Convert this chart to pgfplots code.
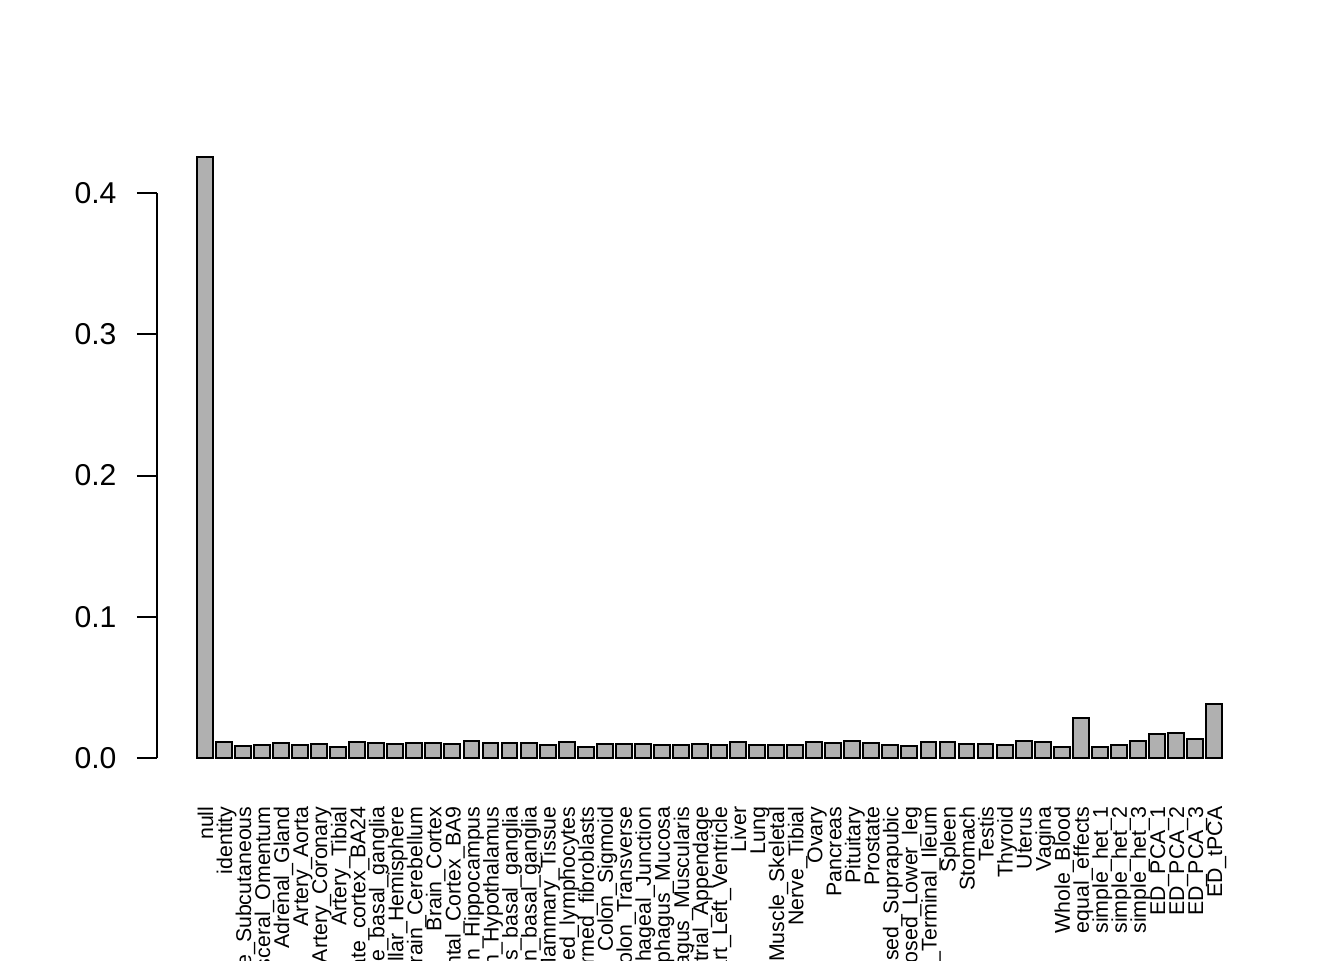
\documentclass[border=0pt]{standalone}
\usepackage{fontspec}
\setmainfont{Liberation Sans}
\usepackage{pgfplots}
\pgfplotsset{compat=1.18}
\definecolor{barfill}{HTML}{B0B0B0}

\begin{document}
\begin{tikzpicture}
\path[use as bounding box] (0,0) rectangle (504pt,360pt);
\clip (0,0) rectangle (504pt,360pt);
\begin{axis}[
    at={(58.875pt,75.75pt)}, anchor=south west,
    x=7.14pt, y=529.69pt,
    xmin=-2.516, xmax=53.5, ymin=0, ymax=0.4,
    clip=false,
    axis y line=left, axis x line=bottom,
    axis line style={-, line width=0.75pt},
    x axis line style={draw=none},
    x tick style={draw=none},
    y tick style={line width=0.75pt, black},
    tick align=outside, major tick length=7.5pt,
    ytick={0,0.1,0.2,0.3,0.4},
    yticklabels={0.0,0.1,0.2,0.3,0.4},
    yticklabel style={anchor=east, inner sep=0pt, xshift=-7.5pt, font=\fontsize{11.3}{12}\selectfont},
    xtick={0,...,53},
    xticklabels={null,identity,Adipose\_Subcutaneous,Adipose\_Visceral\_Omentum,Adrenal\_Gland,
      Artery\_Aorta,Artery\_Coronary,Artery\_Tibial,Brain\_Anterior\_cingulate\_cortex\_BA24,
      Brain\_Caudate\_basal\_ganglia,Brain\_Cerebellar\_Hemisphere,Brain\_Cerebellum,Brain\_Cortex,
      Brain\_Frontal\_Cortex\_BA9,Brain\_Hippocampus,Brain\_Hypothalamus,
      Brain\_Nucleus\_accumbens\_basal\_ganglia,Brain\_Putamen\_basal\_ganglia,Breast\_Mammary\_Tissue,
      Cells\_EBV-transformed\_lymphocytes,Cells\_Transformed\_fibroblasts,Colon\_Sigmoid,Colon\_Transverse,
      Esophagus\_Gastroesophageal\_Junction,Esophagus\_Mucosa,Esophagus\_Muscularis,Heart\_Atrial\_Appendage,
      Heart\_Left\_Ventricle,Liver,Lung,Muscle\_Skeletal,Nerve\_Tibial,Ovary,Pancreas,Pituitary,Prostate,
      Skin\_Not\_Sun\_Exposed\_Suprapubic,Skin\_Sun\_Exposed\_Lower\_leg,Small\_Intestine\_Terminal\_Ileum,
      Spleen,Stomach,Testis,Thyroid,Uterus,Vagina,Whole\_Blood,equal\_effects,simple\_het\_1,simple\_het\_2,
      simple\_het\_3,ED\_PCA\_1,ED\_PCA\_2,ED\_PCA\_3,ED\_tPCA},
    xticklabel style={yshift=-10.5pt, rotate=90, anchor=east, inner sep=0pt,
      text height=1.4ex, text depth=0.25ex, font=\fontsize{8}{8}\selectfont},
]
\addplot[ybar, bar width=0.8333, fill=barfill, draw=black, line width=0.75pt] coordinates {
  (0,0.4255) (1,0.0115) (2,0.0087) (3,0.0094) (4,0.0106) (5,0.0090) (6,0.0099) (7,0.0080)
  (8,0.0111) (9,0.0104) (10,0.0102) (11,0.0106) (12,0.0106) (13,0.0097) (14,0.0118) (15,0.0108)
  (16,0.0106) (17,0.0106) (18,0.0090) (19,0.0111) (20,0.0080) (21,0.0099) (22,0.0097) (23,0.0099)
  (24,0.0094) (25,0.0094) (26,0.0096) (27,0.0094) (28,0.0113) (29,0.0089) (30,0.0089) (31,0.0089)
  (32,0.0112) (33,0.0105) (34,0.0119) (35,0.0109) (36,0.0093) (37,0.0088) (38,0.0111) (39,0.0110)
  (40,0.0096) (41,0.0101) (42,0.0089) (43,0.0118) (44,0.0111) (45,0.0081) (46,0.0286) (47,0.0079)
  (48,0.0089) (49,0.0117) (50,0.0167) (51,0.0179) (52,0.0137) (53,0.0381)
};
\end{axis}
\end{tikzpicture}
\end{document}
